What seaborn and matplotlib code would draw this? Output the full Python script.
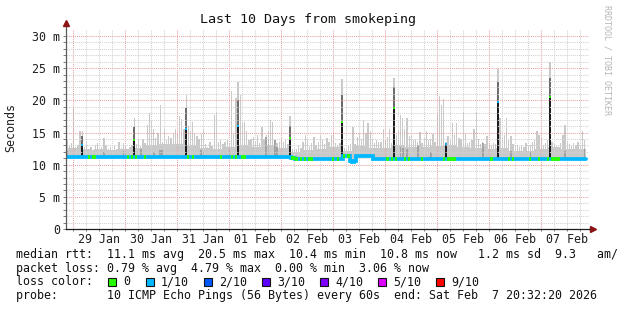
import numpy as np
import pandas as pd
import matplotlib
matplotlib.use("Agg")
import matplotlib.pyplot as plt
from matplotlib.patches import Rectangle
import seaborn as sns

# ---------------- data ----------------
# time axis: hours since start (Wed Jan 28 20:32:20), one bin per hour, 240 bins
day_labels = ["29 Jan", "30 Jan", "31 Jan", "01 Feb", "02 Feb",
              "03 Feb", "04 Feb", "05 Feb", "06 Feb", "07 Feb"]
first_midnight_h = 3.461          # Jan 29 00:00 in hours after start

# top of the smoke (highest ping) per hour, ms
smoke_top = [
    13.9, 12.9, 13.4, 19.0, 12.7, 13.1, 15.2, 15.2, 12.8, 13.6, 12.4, 12.7,
    12.3, 13.0, 13.3, 12.5, 12.7, 14.1, 13.0, 12.4, 12.7, 12.3, 12.9, 12.5,
    13.5, 12.6, 13.3, 13.0, 12.4, 12.8, 13.0, 17.2, 13.2, 13.8, 12.9, 14.0,
    13.4, 16.2, 18.0, 16.8, 15.6, 14.2, 15.0, 19.2, 13.6, 15.6, 13.9, 14.5,
    14.2, 15.0, 15.6, 14.8, 17.5, 17.1, 15.5, 20.8, 16.0, 15.2, 16.7, 15.0,
    14.5, 14.0, 14.8, 15.6, 13.2, 12.8, 13.5, 12.9, 17.7, 18.2, 13.6, 13.9,
    13.2, 13.5, 14.0, 13.3, 21.4, 15.0, 20.4, 22.8, 20.8, 16.5, 16.7, 15.2,
    13.8, 14.0, 14.3, 13.6, 14.6, 13.4, 15.9, 14.0, 14.6, 15.3, 17.0, 16.7,
    13.8, 13.3, 13.5, 14.2, 13.6, 13.8, 13.2, 17.6, 12.4, 12.3, 12.5, 13.0,
    12.6, 13.5, 14.6, 13.9, 12.9, 13.3, 14.3, 13.0, 13.6, 14.6, 13.8, 13.2,
    14.2, 13.5, 14.6, 15.1, 13.3, 13.0, 13.4, 23.3, 12.6, 12.4, 12.9, 13.2,
    15.9, 13.2, 14.3, 14.9, 14.0, 17.0, 15.0, 16.4, 15.2, 14.0, 13.4, 13.9,
    13.6, 13.5, 15.6, 13.8, 14.3, 15.6, 13.3, 23.5, 14.6, 15.4, 17.7, 17.3,
    15.6, 17.2, 14.5, 14.6, 13.9, 14.0, 13.5, 15.1, 13.4, 14.2, 15.2, 13.8,
    14.0, 14.8, 13.6, 17.9, 20.6, 19.2, 20.2, 13.6, 14.5, 14.0, 16.4, 14.6,
    16.4, 14.2, 14.0, 18.2, 14.8, 13.3, 13.6, 13.9, 15.6, 18.2, 14.0, 13.2,
    13.5, 13.2, 14.4, 13.3, 13.0, 13.4, 13.2, 24.9, 17.2, 14.2, 14.6, 17.3,
    13.8, 14.4, 13.2, 12.9, 13.1, 12.8, 13.0, 12.7, 13.3, 12.9, 13.1, 13.6,
    13.9, 15.3, 14.6, 14.2, 13.0, 13.4, 13.8, 25.9, 13.5, 13.3, 13.1, 12.8,
    13.3, 14.6, 16.1, 13.5, 13.2, 12.9, 13.3, 13.1, 13.6, 13.0, 15.3, 13.8,
]

# level of the solid (bulk) smoke, per 6-hour block, ms
bulk_top_6h = [
    12.6, 12.4, 12.5, 12.3,   12.5, 12.6, 13.0, 13.2,
    13.2, 13.0, 12.6, 12.5,   12.7, 13.0, 12.8, 13.0,
    12.6, 12.0, 12.3, 12.5,   12.8, 12.2, 12.9, 12.6,
    12.6, 13.0, 12.8, 12.7,   12.9, 13.0, 12.7, 12.6,
    12.4, 12.6, 12.2, 12.1,   12.5, 12.7, 12.4, 12.5,
]

# median rtt as steps: level starts at the given hour
median_change_hours = [0, 104, 105, 106, 107, 128, 131, 132, 133, 134, 142]
median_levels = [11.15, 11.05, 11.0, 10.9, 10.85, 11.3, 10.5, 10.4, 10.5, 11.35, 10.85]

# hours where the median line shows zero loss (green); others are 1/10 (cyan)
zero_loss_hours = [10, 12, 13, 28, 30, 32, 36, 56, 58, 71, 76, 78, 81, 82,
                   104, 105, 106, 108, 110, 112, 113, 123, 125, 128, 130,
                   148, 150, 152, 156, 158, 164, 174, 176, 177, 178, 179,
                   196, 204, 206, 214, 218, 222, 224, 225, 226, 227]

# denser (darker) smoke patches
dark_hours = [0, 17, 26, 34, 40, 43, 44, 62, 63, 75, 92, 93, 96, 97,
              154, 155, 157, 162, 168, 192, 205, 214, 230, 239]
dark_top = [12.2, 12.0, 12.2, 12.4, 12.0, 12.3, 12.3, 12.3, 12.0, 12.3, 14.3, 14.0, 13.8, 12.8,
            12.7, 12.6, 12.4, 13.1, 12.0, 13.4, 12.2, 12.0, 12.2, 12.5]

# daily events: black core and dark fringe
event_hours = [7, 31, 55, 79, 103, 127, 151, 175, 199, 223]
event_black_top = [13.0, 13.8, 15.5, 16.0, 14.1, 16.7, 18.8, 13.2, 19.7, 20.5]
event_dark_top = [14.5, 15.8, 18.8, 20.0, 16.0, 20.8, 22.0, 13.4, 22.9, 23.5]
event_top_loss = [1, 0, 1, 1, 0, 0, 0, 1, 1, 0]

ytick_ms = [0, 5, 10, 15, 20, 25, 30]
ytick_labels = ["0", "5 m", "10 m", "15 m", "20 m", "25 m", "30 m"]

rtt_stats = [11.1, 20.5, 10.4, 10.8]   # avg max min now
rtt_sd = 1.2
rtt_am = 9.3
loss_stats = [0.79, 4.79, 0.00, 3.06]  # avg max min now
loss_labels = ["0", "1/10", "2/10", "3/10", "4/10", "5/10", "9/10"]
loss_colors = ["#26ff00", "#00b8ff", "#0059ff", "#5e00ff", "#7e00ff", "#dd00ff", "#ff0000"]
probe_text = "10 ICMP Echo Pings (56 Bytes) every 60s"
end_text = "Sat Feb  7 20:32:20 2026"

# ---------------- derived tables ----------------
n = len(smoke_top)
hours = np.arange(n)
median = np.repeat(median_levels, np.diff(median_change_hours + [n]))
bulk = np.repeat(bulk_top_6h, 6)
smoke = pd.DataFrame({"hour": hours, "median": median, "top": smoke_top,
                      "bulk": np.minimum(bulk, smoke_top)})
line_df = pd.DataFrame({"hour": np.append(hours, n), "median": np.append(median, median[-1])})

# ---------------- figure ----------------
sns.set_theme(style="white", rc={"axes.facecolor": "white", "figure.facecolor": "white"})
plt.rcParams["font.family"] = ["DejaVu Sans Mono"]
W, H = 617, 310
PX_H = 2.165     # px per hour
PX_MS = 6.433    # px per ms
fig = plt.figure(figsize=(W / 100, H / 100), dpi=100)
ax = fig.add_axes([66 / W, 1 - 229 / H, 523 / W, 199 / H])

LIGHT, DARK, FRINGE, BLACK = "#c9c9c9", "#a2a2a2", "#6c6c6c", "#1c1c1c"

ax.bar(smoke["hour"], smoke["bulk"] - smoke["median"], bottom=smoke["median"],
       width=1.0, align="edge", color=LIGHT, linewidth=0, zorder=1)
ax.bar(smoke["hour"] + 0.2, smoke["top"] - smoke["median"], bottom=smoke["median"],
       width=0.6, align="edge", color=LIGHT, linewidth=0, zorder=1)
dmed = median[dark_hours]
ax.bar(np.array(dark_hours) + 0.1, np.array(dark_top) - dmed, bottom=dmed, width=0.8,
       align="edge", color=DARK, linewidth=0, zorder=1.1)
emed = median[event_hours]
ax.bar(event_hours, np.array(event_dark_top) - emed, bottom=emed, width=1.0, align="edge",
       color=FRINGE, linewidth=0, zorder=1.2)
ax.bar(event_hours, np.array(event_black_top) - emed, bottom=emed, width=1.0, align="edge",
       color=BLACK, linewidth=0, zorder=1.3)

# median line (1/10 loss colour), then zero-loss bins in green
sns.lineplot(data=line_df, x="hour", y="median", ax=ax, color=loss_colors[1],
             linewidth=2.7, drawstyle="steps-post", zorder=3, legend=False,
             solid_joinstyle="miter")
zl = np.array(zero_loss_hours)
ax.hlines(median[zl], zl, zl + 1, color=loss_colors[0], linewidth=2.7, zorder=3.1)
etc = [loss_colors[k] for k in event_top_loss]
ax.hlines(event_black_top, np.array(event_hours), np.array(event_hours) + 1,
          color=etc, linewidth=1.3, zorder=3.2)

# axes limits / grid
ax.set_xlim(0, 523 / PX_H)
ax.set_ylim(0, 199 / PX_MS)
midnights = first_midnight_h + 24 * np.arange(len(day_labels))
six_h = first_midnight_h + 6 * np.arange(4 * len(day_labels))
six_h = six_h[six_h < n]
ax.set_xticks(midnights)
ax.set_xticks(six_h, minor=True)
ax.set_xticklabels([])
ax.set_xlabel("")
ax.set_ylabel("")
ax.set_yticks(ytick_ms)
ax.set_yticklabels(ytick_labels)
ax.set_yticks(np.arange(0, 31), minor=True)
ax.set_axisbelow(False)
ax.grid(which="major", color="#e8a3a3", linestyle=(0, (1, 1)), linewidth=0.75)
ax.grid(which="minor", color="#d2d2d2", linestyle=(0, (1, 1)), linewidth=0.75)
ax.tick_params(axis="y", which="both", direction="out", length=2.2, width=0.7,
               color="#7a7a7a", pad=2.2, labelsize=8.4, labelcolor="#1e1e1e", left=True)
ax.tick_params(axis="x", which="both", direction="out", length=1.6, width=0.7,
               color="#7a7a7a", bottom=True, labelbottom=False)

sec = ax.secondary_xaxis("bottom")
sec.set_xticks(midnights + 12, labels=day_labels)
sec.tick_params(length=0, pad=2.6, labelsize=8.4, labelcolor="#1e1e1e")
sec.spines["bottom"].set_visible(False)

for s in ["top", "right"]:
    ax.spines[s].set_visible(False)
ax.spines["left"].set_color("#5a5a5a")
ax.spines["left"].set_linewidth(0.9)
ax.spines["bottom"].set_color("#1e1e1e")
ax.spines["bottom"].set_linewidth(0.9)
ax.spines["left"].set_zorder(4)
ax.spines["bottom"].set_zorder(4)

# axis extensions with arrows
ax.plot([0, 0], [1, 1.025], transform=ax.transAxes, color="#5a5a5a", lw=0.9, clip_on=False)
ax.plot(0, 1.035, marker="^", ms=4.2, color="#8b1414", transform=ax.transAxes, clip_on=False)
ax.plot([1, 1.004], [0, 0], transform=ax.transAxes, color="#1e1e1e", lw=0.9, clip_on=False)
ax.plot(1.008, 0, marker=">", ms=4.2, color="#8b1414", transform=ax.transAxes, clip_on=False)

# title, y label and watermark
fig.text(0.5, 1 - 20 / H, "Last 10 Days from smokeping", ha="center", va="center",
         fontsize=9.6, color="#111111")
fig.text(11 / W, 1 - 127 / H, "Seconds", rotation=90, ha="center", va="center",
         fontsize=8.4, color="#1e1e1e")
fig.text(607 / W, 1 - 5 / H, "RRDTOOL / TOBI OETIKER", rotation=270, ha="center", va="top",
         fontsize=6.0, color="#b5b5b5")

# legend block
fs = 8.4
x0 = 16 / W
row_y = [254.3, 268.3, 281.7, 296.0]
line1 = ("median rtt:  {:.1f} ms avg  {:.1f} ms max  {:.1f} ms min  {:.1f} ms now  "
         " {:.1f} ms sd  {:.1f}   am/s").format(*rtt_stats, rtt_sd, rtt_am)
line2 = "packet loss: {:.2f} % avg  {:.2f} % max  {:.2f} % min  {:.2f} % now".format(*loss_stats)
line4 = "probe:       {}  end: {}".format(probe_text, end_text)
for txt, yy in [(line1, row_y[0]), (line2, row_y[1]), ("loss color:", row_y[2]), (line4, row_y[3])]:
    fig.text(x0, 1 - yy / H, txt, ha="left", va="center", fontsize=fs, color="#111111")

box_left = [108, 146, 204, 262, 320, 378, 436]
for bx, lab, col in zip(box_left, loss_labels, loss_colors):
    fig.add_artist(Rectangle((bx / W, (H - row_y[2] - 4) / H), 8 / W, 8 / H,
                             transform=fig.transFigure, facecolor=col,
                             edgecolor="#111111", linewidth=0.8))
    fig.text((bx + 15) / W, 1 - row_y[2] / H, lab, ha="left", va="center",
             fontsize=fs, color="#111111")

fig.savefig("out.png", dpi=100)
